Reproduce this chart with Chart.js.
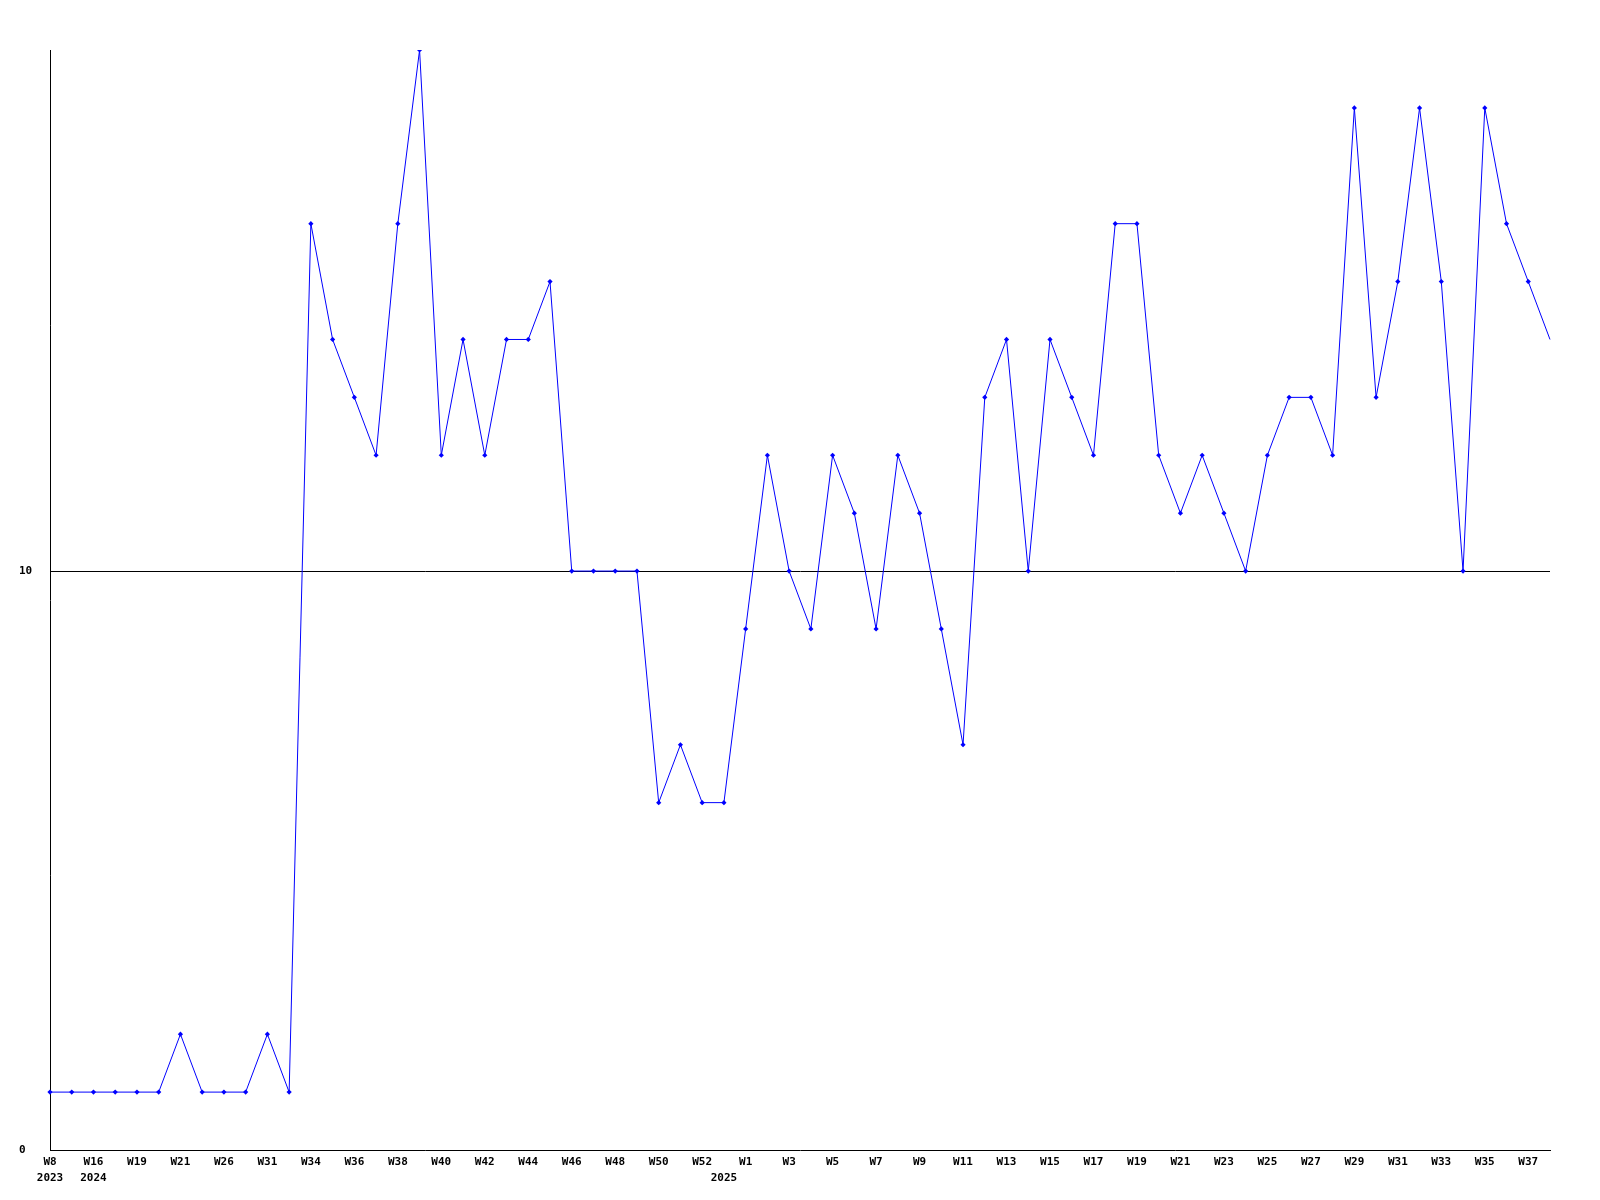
<!DOCTYPE html>
<html>
<head>
<meta charset="utf-8">
<script src="https://cdn.jsdelivr.net/npm/chart.js@4/dist/chart.umd.min.js"></script>
<style>
  html, body { margin: 0; padding: 0; background: #fff; }
  #wrap { width: 1600px; height: 1200px; }
</style>
</head>
<body>
<div id="wrap"><canvas id="grafico"></canvas></div>
<script>
// === Datos ===
const semanas = [
  "W8", "W12", "W16", "W18", "W19", "W20", "W21", "W24", "W26", "W29",
  "W31", "W33", "W34", "W35", "W36", "W37", "W38", "W39", "W40", "W41",
  "W42", "W43", "W44", "W45", "W46", "W47", "W48", "W49", "W50", "W51",
  "W52", "W53", "W1", "W2", "W3", "W4", "W5", "W6", "W7", "W8",
  "W9", "W10", "W11", "W12", "W13", "W14", "W15", "W16", "W17", "W18",
  "W19", "W20", "W21", "W22", "W23", "W24", "W25", "W26", "W27", "W28",
  "W29", "W30", "W31", "W32", "W33", "W34", "W35", "W36", "W37", "W38"
];
// año mostrado bajo la etiqueta (índice de la semana donde se dibuja)
const anios = { 0: "2023", 2: "2024", 31: "2025" };

const valores = [
  1, 1, 1, 1, 1, 1, 2, 1, 1, 1,
  2, 1, 16, 14, 13, 12, 16, 19, 12, 14,
  12, 14, 14, 15, 10, 10, 10, 10, 6, 7,
  6, 6, 9, 12, 10, 9, 12, 11, 9, 12,
  11, 9, 7, 13, 14, 10, 14, 13, 12, 16,
  16, 12, 11, 12, 11, 10, 12, 13, 13, 12,
  18, 13, 15, 18, 15, 10, 18, 16, 15, 14
];

const yTicks = [0, 10];

const fuente = { family: "'DejaVu Sans Mono', monospace", size: 11, weight: "bold", lineHeight: 1.45 };

// etiqueta visible: semana cada dos puntos, año en su propia línea
function etiqueta(i) {
  const sem = i % 2 === 0 ? semanas[i] : "";
  if (anios[i]) return [sem, anios[i]];
  return sem;
}

// === Gráfico ===
new Chart(document.getElementById("grafico"), {
  type: "line",
  data: {
    labels: semanas,
    datasets: [{
      data: valores,
      borderColor: "#0000ff",
      backgroundColor: "#0000ff",
      borderWidth: 1,
      tension: 0,
      fill: false,
      pointStyle: "rectRot",
      pointRadius: (c) => c.dataIndex === valores.length - 1 ? 0 : 2.6,
      pointBorderWidth: 0
    }]
  },
  options: {
    responsive: true,
    maintainAspectRatio: false,
    animation: false,
    layout: { padding: { top: 50, right: 50, left: 19, bottom: 0 } },
    plugins: {
      legend: { display: false },
      tooltip: { enabled: false }
    },
    scales: {
      x: {
        offset: false,
        grid: { display: false, drawTicks: false },
        border: { display: true, color: "#000", width: 1 },
        afterFit: (s) => { s.height = 50; },
        ticks: {
          autoSkip: false,
          maxRotation: 0,
          minRotation: 0,
          padding: 4,
          color: "#000",
          font: fuente,
          callback: (v, i) => etiqueta(i)
        }
      },
      y: {
        min: 0,
        max: 19,
        afterBuildTicks: (s) => { s.ticks = yTicks.map(v => ({ value: v })); },
        afterFit: (s) => { s.width = 31; },
        grid: {
          drawTicks: false,
          color: (c) => c.tick && c.tick.value === 10 ? "#000" : "rgba(0,0,0,0)",
          lineWidth: 1
        },
        border: { display: true, color: "#000", width: 1 },
        ticks: {
          crossAlign: "far",
          padding: 0,
          color: "#000",
          font: fuente
        }
      }
    }
  }
});
</script>
</body>
</html>
